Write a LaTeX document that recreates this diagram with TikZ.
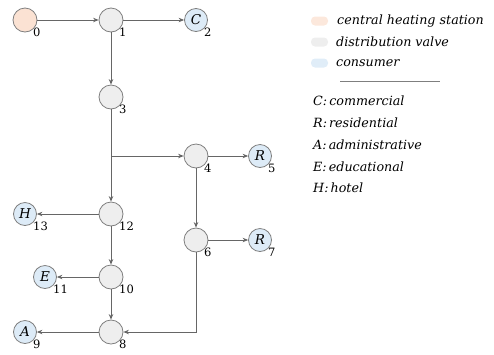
\documentclass[tikz,border=0pt]{standalone}
\usepackage{fontspec}
\setmainfont{DejaVu Serif}
\usetikzlibrary{arrows.meta}
\definecolor{hs}{HTML}{FBE2D3}
\definecolor{dv}{HTML}{EEEEEE}
\definecolor{cs}{HTML}{DDEBF7}
\definecolor{bd}{HTML}{7F7F7F}
\definecolor{ln}{HTML}{666666}
\tikzset{
  nd/.style={circle,draw=bd,line width=0.8pt,minimum size=24pt,inner sep=0pt,font=\fontsize{13.5}{13.5}\selectfont\itshape},
  heat/.style={nd,fill=hs},
  valve/.style={nd,fill=dv},
  cons/.style={nd,fill=cs,minimum size=23pt},
  num/.style={anchor=north west,inner sep=0pt,font=\fontsize{11.5}{11.5}\selectfont},
  con/.style={draw=ln,line width=0.8pt,-{Stealth[length=5.5pt,width=4.5pt]}},
  sw/.style={rounded corners=4pt,minimum width=17pt,minimum height=9pt,inner sep=0pt},
  lg/.style={anchor=west,inner sep=0pt,font=\fontsize{12.7}{12.7}\selectfont\itshape},
}
\begin{document}
\begin{tikzpicture}[x=1pt,y=-1pt]
\useasboundingbox (0,0) rectangle (494,354);
% nodes
\node[heat]  (n0)  at (25,20) {};
\node[valve] (n1)  at (111,20) {};
\node[cons]  (n2)  at (196,20) {C};
\node[valve] (n3)  at (111,97) {};
\node[valve] (n4)  at (196,156) {};
\node[cons]  (n5)  at (260,156) {R};
\node[valve] (n6)  at (196,240) {};
\node[cons]  (n7)  at (260,240) {R};
\node[valve] (n12) at (111,214) {};
\node[cons]  (n13) at (25,214) {H};
\node[valve] (n10) at (111,277) {};
\node[cons]  (n11) at (45,277) {E};
\node[valve] (n8)  at (111,332) {};
\node[cons]  (n9)  at (25,332) {A};
\coordinate (j) at (111,156);
\coordinate (k) at (196,332);
% numbers
\foreach \n/\t in {n0/0,n1/1,n2/2,n3/3,n4/4,n5/5,n6/6,n7/7,n8/8,n9/9,n10/10,n11/11,n12/12,n13/13}
  \node[num] at ([xshift=8pt,yshift=-8pt]\n.center) {\t};
% connectors
\draw[con] (n0) -- (n1);
\draw[con] (n1) -- (n2);
\draw[con] (n1) -- (n3);
\draw[con] (n3) -- (n12);
\draw[con] (j) -- (n4);
\draw[con] (n4) -- (n5);
\draw[con] (n4) -- (n6);
\draw[con] (n6) -- (n7);
\draw[con] (n12) -- (n13);
\draw[con] (n12) -- (n10);
\draw[con] (n10) -- (n11);
\draw[con] (n10) -- (n8);
\draw[con] (n8) -- (n9);
\draw[con] (n6) -- (k) -- (n8);
% legend
\node[sw,fill=hs!80] (s1) at (319.5,21) {};
\node[sw,fill=dv] (s2) at (319.5,42) {};
\node[sw,fill=cs!90] (s3) at (319.5,63) {};
\node[lg] (l1) at (337,21) {central heating station};
\node[lg] (l2) at (336,42) {distribution valve};
\node[lg] (l3) at (336,63) {consumer};
\coordinate (ra) at (340,81);
\coordinate (rb) at (440,81);
\draw[draw=bd,line width=0.8pt] (ra) -- (rb);
\node[lg] (k1) at (313,101) {C:\,commercial};
\node[lg] (k2) at (313,123) {R:\,residential};
\node[lg] (k3) at (313,145) {A:\,administrative};
\node[lg] (k4) at (313,167) {E:\,educational};
\node[lg] (k5) at (313,188) {H:\,hotel};
\end{tikzpicture}
\end{document}
